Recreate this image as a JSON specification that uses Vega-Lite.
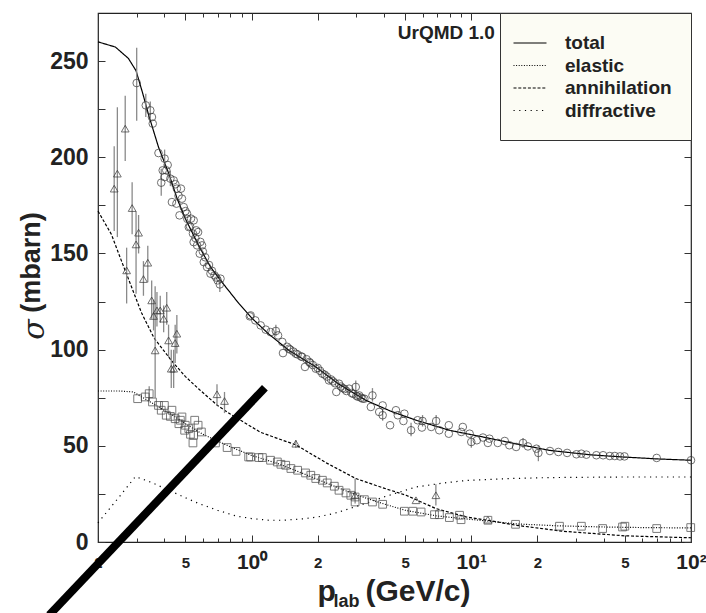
{
  "$schema": "https://vega.github.io/schema/vega-lite/v6.json",
  "width": 593,
  "height": 529,
  "autosize": {"type": "none"},
  "padding": {"left": 98, "top": 13, "right": 15, "bottom": 71},
  "background": "white",
  "config": {
    "font": "Liberation Sans",
    "view": {"stroke": "#222", "strokeWidth": 1.2},
    "axis": {"grid": false, "domain": false, "tickColor": "#333", "tickWidth": 1, "labelColor": "#222", "titleColor": "#222"}
  },
  "resolve": {"axis": {"x": "independent", "y": "independent"}},
  "datasets": {
    "curves": [
      {"p":0.2,"s":260,"series":"total"},{"p":0.24,"s":257.3,"series":"total"},{"p":0.275,"s":251.4,"series":"total"},{"p":0.298,"s":245,"series":"total"},{"p":0.32,"s":233,"series":"total"},{"p":0.34,"s":222,"series":"total"},{"p":0.377,"s":205.3,"series":"total"},{"p":0.42,"s":191.5,"series":"total"},{"p":0.46,"s":178,"series":"total"},{"p":0.5,"s":168,"series":"total"},{"p":0.575,"s":154,"series":"total"},{"p":0.65,"s":143,"series":"total"},{"p":0.734,"s":135,"series":"total"},{"p":0.875,"s":124,"series":"total"},{"p":1.0,"s":116.5,"series":"total"},{"p":1.2,"s":108,"series":"total"},{"p":1.48,"s":99.6,"series":"total"},{"p":1.96,"s":91,"series":"total"},{"p":2.5,"s":82,"series":"total"},{"p":3.32,"s":73.6,"series":"total"},{"p":4.3,"s":68,"series":"total"},{"p":5.61,"s":63.3,"series":"total"},{"p":8,"s":58,"series":"total"},{"p":11.3,"s":54.6,"series":"total"},{"p":16,"s":51,"series":"total"},{"p":22.8,"s":47.6,"series":"total"},{"p":35,"s":45.3,"series":"total"},{"p":49,"s":44.2,"series":"total"},{"p":70,"s":43.2,"series":"total"},{"p":100,"s":42.5,"series":"total"},
      {"p":0.2,"s":78.5,"series":"elastic"},{"p":0.25,"s":78.5,"series":"elastic"},{"p":0.29,"s":78,"series":"elastic"},{"p":0.31,"s":76,"series":"elastic"},{"p":0.35,"s":72.5,"series":"elastic"},{"p":0.4,"s":68.5,"series":"elastic"},{"p":0.45,"s":65,"series":"elastic"},{"p":0.5,"s":61.5,"series":"elastic"},{"p":0.6,"s":56,"series":"elastic"},{"p":0.7,"s":52.5,"series":"elastic"},{"p":0.8,"s":49.5,"series":"elastic"},{"p":1.0,"s":45,"series":"elastic"},{"p":1.3,"s":41,"series":"elastic"},{"p":1.6,"s":37,"series":"elastic"},{"p":2,"s":32.5,"series":"elastic"},{"p":2.5,"s":28,"series":"elastic"},{"p":3,"s":24.5,"series":"elastic"},{"p":4,"s":19.8,"series":"elastic"},{"p":5,"s":16.5,"series":"elastic"},{"p":7,"s":13.5,"series":"elastic"},{"p":9.5,"s":12,"series":"elastic"},{"p":16,"s":9.4,"series":"elastic"},{"p":25,"s":8.4,"series":"elastic"},{"p":40,"s":7.8,"series":"elastic"},{"p":60,"s":7.5,"series":"elastic"},{"p":100,"s":7.3,"series":"elastic"},
      {"p":0.2,"s":172,"series":"annihilation"},{"p":0.23,"s":160,"series":"annihilation"},{"p":0.256,"s":146,"series":"annihilation"},{"p":0.29,"s":130,"series":"annihilation"},{"p":0.316,"s":119,"series":"annihilation"},{"p":0.36,"s":106,"series":"annihilation"},{"p":0.434,"s":94,"series":"annihilation"},{"p":0.5,"s":86,"series":"annihilation"},{"p":0.575,"s":79.5,"series":"annihilation"},{"p":0.7,"s":71,"series":"annihilation"},{"p":0.8,"s":66.5,"series":"annihilation"},{"p":0.9,"s":63,"series":"annihilation"},{"p":1.1,"s":57,"series":"annihilation"},{"p":1.3,"s":54,"series":"annihilation"},{"p":1.59,"s":50.5,"series":"annihilation"},{"p":2.2,"s":41,"series":"annihilation"},{"p":2.98,"s":33,"series":"annihilation"},{"p":4,"s":28,"series":"annihilation"},{"p":5.05,"s":24.3,"series":"annihilation"},{"p":6.9,"s":17.4,"series":"annihilation"},{"p":9.5,"s":13,"series":"annihilation"},{"p":11.9,"s":11.3,"series":"annihilation"},{"p":16,"s":8.7,"series":"annihilation"},{"p":26,"s":5.6,"series":"annihilation"},{"p":50,"s":3.2,"series":"annihilation"},{"p":100,"s":2.2,"series":"annihilation"},
      {"p":0.2,"s":10,"series":"diffractive"},{"p":0.25,"s":23.5,"series":"diffractive"},{"p":0.296,"s":34,"series":"diffractive"},{"p":0.35,"s":31,"series":"diffractive"},{"p":0.4,"s":28,"series":"diffractive"},{"p":0.5,"s":23,"series":"diffractive"},{"p":0.575,"s":20,"series":"diffractive"},{"p":0.7,"s":16.5,"series":"diffractive"},{"p":0.85,"s":13.5,"series":"diffractive"},{"p":1.0,"s":12.2,"series":"diffractive"},{"p":1.2,"s":11.3,"series":"diffractive"},{"p":1.4,"s":11.3,"series":"diffractive"},{"p":1.7,"s":12,"series":"diffractive"},{"p":2,"s":13,"series":"diffractive"},{"p":2.4,"s":15,"series":"diffractive"},{"p":2.8,"s":17.4,"series":"diffractive"},{"p":3.4,"s":20.5,"series":"diffractive"},{"p":4,"s":23.4,"series":"diffractive"},{"p":5.6,"s":28.6,"series":"diffractive"},{"p":7.5,"s":30.7,"series":"diffractive"},{"p":9.5,"s":32,"series":"diffractive"},{"p":15,"s":33,"series":"diffractive"},{"p":23,"s":33.5,"series":"diffractive"},{"p":50,"s":33.8,"series":"diffractive"},{"p":100,"s":33.8,"series":"diffractive"}
    ],
    "pts": [
      {"kind":"total","p":0.300,"s":238.6,"lo":219,"hi":257},{"kind":"total","p":0.330,"s":227,"lo":221,"hi":233},{"kind":"total","p":0.346,"s":224.4,"lo":220,"hi":229},{"kind":"total","p":0.352,"s":220.9},{"kind":"total","p":0.355,"s":217.5},{"kind":"total","p":0.377,"s":202.2},{"kind":"total","p":0.388,"s":186.8,"lo":180,"hi":194},{"kind":"total","p":0.394,"s":193.2},{"kind":"total","p":0.402,"s":199.3,"lo":195,"hi":204},{"kind":"total","p":0.402,"s":189.7},{"kind":"total","p":0.409,"s":193.2},{"kind":"total","p":0.415,"s":196},{"kind":"total","p":0.427,"s":188.9,"lo":185,"hi":193},{"kind":"total","p":0.434,"s":176.7},{"kind":"total","p":0.442,"s":188},{"kind":"total","p":0.45,"s":186},{"kind":"total","p":0.455,"s":175.9},{"kind":"total","p":0.457,"s":183.7},{"kind":"total","p":0.465,"s":180},{"kind":"total","p":0.470,"s":169.8},{"kind":"total","p":0.477,"s":183.7},{"kind":"total","p":0.482,"s":178.5},{"kind":"total","p":0.491,"s":174.1},{"kind":"total","p":0.5,"s":172},{"kind":"total","p":0.508,"s":170.7},{"kind":"total","p":0.51,"s":168},{"kind":"total","p":0.518,"s":163.7},{"kind":"total","p":0.525,"s":164},{"kind":"total","p":0.530,"s":168.1},{"kind":"total","p":0.541,"s":160.3},{"kind":"total","p":0.545,"s":167.2},{"kind":"total","p":0.545,"s":155.9},{"kind":"total","p":0.555,"s":158},{"kind":"total","p":0.56,"s":162},{"kind":"total","p":0.565,"s":154.2},{"kind":"total","p":0.571,"s":161.1},{"kind":"total","p":0.581,"s":149.9},{"kind":"total","p":0.585,"s":156},{"kind":"total","p":0.595,"s":154.2},{"kind":"total","p":0.6,"s":151},{"kind":"total","p":0.606,"s":145.5},{"kind":"total","p":0.615,"s":148},{"kind":"total","p":0.627,"s":142.9},{"kind":"total","p":0.64,"s":144},{"kind":"total","p":0.650,"s":139.5},{"kind":"total","p":0.66,"s":141},{"kind":"total","p":0.678,"s":138.6},{"kind":"total","p":0.69,"s":137.5},{"kind":"total","p":0.701,"s":136},{"kind":"total","p":0.717,"s":133.9,"lo":130,"hi":138},{"kind":"total","p":0.722,"s":136.9},
      {"kind":"total","p":0.982,"s":117.3},{"kind":"total","p":0.99,"s":117.8},{"kind":"total","p":1.04,"s":115.2},{"kind":"total","p":1.10,"s":112.6},{"kind":"total","p":1.16,"s":110.4},{"kind":"total","p":1.22,"s":109.1},{"kind":"total","p":1.29,"s":109.7,"lo":107,"hi":113},{"kind":"total","p":1.32,"s":107.4},{"kind":"total","p":1.38,"s":104},{"kind":"total","p":1.39,"s":98.2},{"kind":"total","p":1.45,"s":101.5},{"kind":"total","p":1.48,"s":100.5},{"kind":"total","p":1.5,"s":100},{"kind":"total","p":1.55,"s":99},{"kind":"total","p":1.59,"s":97.9},{"kind":"total","p":1.62,"s":97.5},{"kind":"total","p":1.68,"s":96.5},{"kind":"total","p":1.70,"s":96.2},{"kind":"total","p":1.75,"s":91},{"kind":"total","p":1.78,"s":95},{"kind":"total","p":1.83,"s":93.6},{"kind":"total","p":1.85,"s":93},{"kind":"total","p":1.9,"s":92},{"kind":"total","p":1.96,"s":90.1},{"kind":"total","p":2.0,"s":90.5},{"kind":"total","p":2.05,"s":89},{"kind":"total","p":2.10,"s":87.5},{"kind":"total","p":2.15,"s":87},{"kind":"total","p":2.2,"s":86},{"kind":"total","p":2.25,"s":84},{"kind":"total","p":2.3,"s":84.5},{"kind":"total","p":2.35,"s":83.5},{"kind":"total","p":2.4,"s":82.5},{"kind":"total","p":2.43,"s":78},{"kind":"total","p":2.50,"s":82.3},{"kind":"total","p":2.55,"s":80.8},{"kind":"total","p":2.6,"s":80},{"kind":"total","p":2.65,"s":79.5},{"kind":"total","p":2.7,"s":78.5},{"kind":"total","p":2.78,"s":79.7},{"kind":"total","p":2.85,"s":77.5},{"kind":"total","p":2.9,"s":77},{"kind":"total","p":2.98,"s":80.6,"lo":77,"hi":84},{"kind":"total","p":3.0,"s":76},{"kind":"total","p":3.05,"s":75.5},{"kind":"total","p":3.09,"s":76.2},{"kind":"total","p":3.15,"s":75},{"kind":"total","p":3.2,"s":74.5},{"kind":"total","p":3.26,"s":74.5},{"kind":"total","p":3.49,"s":70.2},{"kind":"total","p":3.55,"s":76.2,"lo":73,"hi":80},{"kind":"total","p":3.81,"s":67.6},{"kind":"total","p":3.95,"s":71},{"kind":"total","p":3.95,"s":65.9,"lo":63,"hi":69},{"kind":"total","p":4.27,"s":60.7},{"kind":"total","p":4.54,"s":68.5},{"kind":"total","p":4.63,"s":65.9},{"kind":"total","p":4.91,"s":62.9},{"kind":"total","p":4.96,"s":66.7},{"kind":"total","p":5.32,"s":58.1,"lo":55,"hi":62},{"kind":"total","p":5.70,"s":63.3},{"kind":"total","p":5.96,"s":59.5},{"kind":"total","p":6.0,"s":62.9,"lo":60,"hi":66},{"kind":"total","p":6.57,"s":59.8},{"kind":"total","p":6.92,"s":62.9,"lo":60,"hi":66},{"kind":"total","p":7.15,"s":58.1},{"kind":"total","p":7.9,"s":60.7},{"kind":"total","p":7.9,"s":56.3},{"kind":"total","p":9.0,"s":57.2},{"kind":"total","p":9.15,"s":59.8},{"kind":"total","p":9.83,"s":56.3},{"kind":"total","p":10.0,"s":52,"lo":49,"hi":55},{"kind":"total","p":10.6,"s":52.9},{"kind":"total","p":11.3,"s":54.3},{"kind":"total","p":11.9,"s":51.5},{"kind":"total","p":12.1,"s":53.7},{"kind":"total","p":13.2,"s":51.5},{"kind":"total","p":14.2,"s":52.5},{"kind":"total","p":14.9,"s":50.3},{"kind":"total","p":16.0,"s":49.4},{"kind":"total","p":17.2,"s":51.5,"lo":49,"hi":54},{"kind":"total","p":18.1,"s":49.7},{"kind":"total","p":19.8,"s":48.5},{"kind":"total","p":20.2,"s":46.3,"lo":42,"hi":50},{"kind":"total","p":22.8,"s":47.3},{"kind":"total","p":24.9,"s":46.8},{"kind":"total","p":27.3,"s":46.3},{"kind":"total","p":30.1,"s":45.6},{"kind":"total","p":31.7,"s":45.9},{"kind":"total","p":33.4,"s":45.4},{"kind":"total","p":37.1,"s":45.1},{"kind":"total","p":39.8,"s":45.1},{"kind":"total","p":42.7,"s":44.7},{"kind":"total","p":45,"s":44.7},{"kind":"total","p":47.5,"s":44.5},{"kind":"total","p":49.8,"s":44.5},{"kind":"total","p":69.8,"s":43.7},{"kind":"total","p":100,"s":42.5},
      {"kind":"annihilation","p":0.237,"s":183.7,"lo":161.7,"hi":205.7},{"kind":"annihilation","p":0.245,"s":191.5,"lo":158.5,"hi":226},{"kind":"annihilation","p":0.266,"s":214.9,"lo":198,"hi":232},{"kind":"annihilation","p":0.270,"s":141.2,"lo":124,"hi":153},{"kind":"annihilation","p":0.286,"s":173.6,"lo":160,"hi":187},{"kind":"annihilation","p":0.298,"s":154.7,"lo":129,"hi":172},{"kind":"annihilation","p":0.306,"s":160.8,"lo":150,"hi":170},{"kind":"annihilation","p":0.322,"s":136.7,"lo":128,"hi":146},{"kind":"annihilation","p":0.337,"s":145.2,"lo":135,"hi":154},{"kind":"annihilation","p":0.351,"s":125.6,"lo":116,"hi":136},{"kind":"annihilation","p":0.358,"s":117.5,"lo":110,"hi":126},{"kind":"annihilation","p":0.364,"s":99.6,"lo":75,"hi":133},{"kind":"annihilation","p":0.371,"s":120.4,"lo":112,"hi":130},{"kind":"annihilation","p":0.384,"s":120.4,"lo":114,"hi":128},{"kind":"annihilation","p":0.398,"s":116.1,"lo":109,"hi":123},{"kind":"annihilation","p":0.411,"s":121.8,"lo":113,"hi":130},{"kind":"annihilation","p":0.419,"s":104.8,"lo":96,"hi":113},{"kind":"annihilation","p":0.431,"s":90.1,"lo":80,"hi":100},{"kind":"annihilation","p":0.442,"s":90.1,"lo":80,"hi":100},{"kind":"annihilation","p":0.449,"s":103.4,"lo":93,"hi":113},{"kind":"annihilation","p":0.457,"s":108.3,"lo":98,"hi":118},{"kind":"annihilation","p":0.696,"s":76.8,"lo":71,"hi":82},{"kind":"annihilation","p":0.753,"s":73.3,"lo":67,"hi":78},{"kind":"annihilation","p":1.59,"s":51.1,"lo":49,"hi":53},{"kind":"annihilation","p":2.96,"s":24.3,"lo":20,"hi":33},{"kind":"annihilation","p":5.6,"s":21.7},{"kind":"annihilation","p":6.9,"s":24.3,"lo":19,"hi":30},{"kind":"annihilation","p":11.9,"s":11.6},
      {"kind":"elastic","p":0.303,"s":74.5},{"kind":"elastic","p":0.328,"s":75.4},{"kind":"elastic","p":0.342,"s":77.1,"lo":73,"hi":81},{"kind":"elastic","p":0.354,"s":72.8},{"kind":"elastic","p":0.377,"s":71},{"kind":"elastic","p":0.388,"s":68.5},{"kind":"elastic","p":0.401,"s":71},{"kind":"elastic","p":0.409,"s":65.9},{"kind":"elastic","p":0.427,"s":65.3},{"kind":"elastic","p":0.434,"s":68.5},{"kind":"elastic","p":0.449,"s":64.1},{"kind":"elastic","p":0.467,"s":61.5},{"kind":"elastic","p":0.474,"s":63.3},{"kind":"elastic","p":0.482,"s":65},{"kind":"elastic","p":0.496,"s":58.1},{"kind":"elastic","p":0.499,"s":60.7},{"kind":"elastic","p":0.518,"s":58.9},{"kind":"elastic","p":0.527,"s":56},{"kind":"elastic","p":0.541,"s":51.5},{"kind":"elastic","p":0.545,"s":55.5},{"kind":"elastic","p":0.551,"s":63.3},{"kind":"elastic","p":0.571,"s":60.7},{"kind":"elastic","p":0.591,"s":57.2},{"kind":"elastic","p":0.685,"s":51.5},{"kind":"elastic","p":0.774,"s":49.1},{"kind":"elastic","p":0.85,"s":47.1},{"kind":"elastic","p":0.97,"s":44.2},{"kind":"elastic","p":0.99,"s":44.2},{"kind":"elastic","p":1.08,"s":43.9},{"kind":"elastic","p":1.12,"s":43.9},{"kind":"elastic","p":1.22,"s":42.5},{"kind":"elastic","p":1.31,"s":41.6},{"kind":"elastic","p":1.36,"s":40.4},{"kind":"elastic","p":1.43,"s":39.9},{"kind":"elastic","p":1.51,"s":38.2},{"kind":"elastic","p":1.62,"s":37.3},{"kind":"elastic","p":1.76,"s":35.9},{"kind":"elastic","p":1.86,"s":34.7},{"kind":"elastic","p":1.96,"s":33},{"kind":"elastic","p":2.10,"s":32.1},{"kind":"elastic","p":2.21,"s":30.7},{"kind":"elastic","p":2.38,"s":29},{"kind":"elastic","p":2.50,"s":26.9},{"kind":"elastic","p":2.69,"s":25.5},{"kind":"elastic","p":2.83,"s":24.3},{"kind":"elastic","p":2.96,"s":23.4},{"kind":"elastic","p":2.96,"s":20.8},{"kind":"elastic","p":3.26,"s":22},{"kind":"elastic","p":3.55,"s":20.8},{"kind":"elastic","p":3.95,"s":19.6},{"kind":"elastic","p":4.96,"s":16},{"kind":"elastic","p":5.42,"s":16},{"kind":"elastic","p":5.91,"s":15.6},{"kind":"elastic","p":6.8,"s":14.2},{"kind":"elastic","p":7.16,"s":14.2},{"kind":"elastic","p":7.95,"s":12.7},{"kind":"elastic","p":8.84,"s":13.9},{"kind":"elastic","p":8.98,"s":11.6},{"kind":"elastic","p":11.9,"s":11.3},{"kind":"elastic","p":15.9,"s":9.2},{"kind":"elastic","p":25.2,"s":8.2},{"kind":"elastic","p":31.7,"s":8.2},{"kind":"elastic","p":39.6,"s":7},{"kind":"elastic","p":48.8,"s":7.8},{"kind":"elastic","p":50,"s":8.2},{"kind":"elastic","p":69.8,"s":7},{"kind":"elastic","p":99.7,"s":7.5}
    ],
    "diag": [{"p":0.12,"s":-38},{"p":1.15,"s":80.2}],
    "note": [{"p":7.7,"s":264.4,"label":"UrQMD 1.0"}]
  },
  "layer": [
    {
      "data": {"name": "curves"},
      "mark": {"type": "line", "color": "black", "strokeWidth": 1.2},
      "encoding": {
        "x": {"field": "p", "type": "quantitative", "scale": {"type": "log", "domain": [0.2, 100], "nice": false},
          "axis": {"orient": "bottom", "values": [0.2, 0.5, 1, 2, 5, 10, 20, 50, 100], "ticks": false, "labelPadding": 20, "labelBaseline": "middle", "labelFontWeight": "bold",
            "labelExpr": "datum.value == 1 ? '10⁰' : datum.value == 10 ? '10¹' : datum.value == 100 ? '10²' : (datum.value == 0.2 || datum.value == 2 || datum.value == 20) ? '2' : '5'",
            "labelFontSize": {"condition": {"test": "datum.value == 1 || datum.value == 10 || datum.value == 100", "value": 21}, "value": 15},
            "labelFlush": false, "labelOverlap": false,
            "title": "p", "titleFontSize": 30, "titleFontWeight": "bold", "titleX": 219, "titleY": 58, "titleAlign": "left", "titleBaseline": "alphabetic"}},
        "y": {"field": "s", "type": "quantitative", "scale": {"domain": [0, 275], "nice": false, "zero": false},
          "axis": {"orient": "left", "values": [0, 50, 100, 150, 200, 250], "ticks": false, "labelPadding": 10, "labelFontSize": 23, "labelFontWeight": "bold",
            "title": "(mbarn)", "titleFontSize": 27, "titleFontWeight": "bold", "titleX": -67, "titleY": 249, "titleAngle": -90, "titleAlign": "center", "titleBaseline": "middle"}},
        "strokeDash": {"field": "series", "type": "nominal",
          "scale": {"domain": ["total", "elastic", "annihilation", "diffractive"], "range": [[1, 0], [1, 1.6], [3, 1.8], [1.2, 4.5]]},
          "legend": {"orient": "top-right", "offset": 0, "title": null, "padding": 19, "fillColor": "#fcfcf4", "strokeColor": "#333",
            "symbolType": "M-1.65,0H1.65", "symbolSize": 400, "symbolStrokeColor": "black", "symbolStrokeWidth": 1.2, "labelOffset": 24,
            "labelFontSize": 19, "labelFontWeight": "bold", "labelColor": "#222", "rowPadding": 1.5}}
      }
    },
    {
      "data": {"name": "pts"},
      "transform": [{"filter": "isValid(datum.lo)"}],
      "mark": {"type": "rule", "color": "#8a8a8a", "strokeWidth": 1.3},
      "encoding": {
        "x": {"field": "p", "type": "quantitative", "axis": {"orient": "bottom", "values": [0.2, 0.5, 1, 2, 5, 10, 20, 50, 100], "labels": false, "tickSize": -7,
          "title": "lab", "titleFontSize": 18, "titleFontWeight": "bold", "titleX": 235, "titleY": 64, "titleAlign": "left", "titleBaseline": "alphabetic"}},
        "y": {"field": "lo", "type": "quantitative", "axis": {"orient": "left", "values": [0, 25, 50, 75, 100, 125, 150, 175, 200, 225, 250], "labels": false, "tickSize": -7,
          "title": "σ", "titleFont": "DejaVu Serif", "titleFontStyle": "italic", "titleFontWeight": "normal", "titleFontSize": 30, "titleX": -64, "titleY": 316, "titleAngle": -90, "titleAlign": "center", "titleBaseline": "middle"}},
        "y2": {"field": "hi"}
      }
    },
    {
      "data": {"name": "pts"},
      "transform": [{"filter": "datum.kind == 'total'"}],
      "mark": {"type": "point", "shape": "circle", "filled": false, "stroke": "#333", "strokeWidth": 1, "size": 58},
      "encoding": {
        "x": {"field": "p", "type": "quantitative", "axis": {"orient": "bottom", "values": [0.3, 0.4, 0.6, 0.7, 0.8, 0.9, 3, 4, 6, 7, 8, 9, 30, 40, 60, 70, 80, 90], "labels": false, "tickSize": -4,
          "title": "(GeV/c)", "titleFontSize": 30, "titleFontWeight": "bold", "titleX": 267, "titleY": 58, "titleAlign": "left", "titleBaseline": "alphabetic"}},
        "y": {"field": "s", "type": "quantitative", "axis": {"orient": "right", "values": [0, 25, 50, 75, 100, 125, 150, 175, 200, 225, 250], "labels": false, "tickSize": -7, "title": null}}
      }
    },
    {
      "data": {"name": "pts"},
      "transform": [{"filter": "datum.kind == 'annihilation'"}],
      "mark": {"type": "point", "shape": "triangle-up", "filled": false, "stroke": "#333", "strokeWidth": 1, "size": 60},
      "encoding": {
        "x": {"field": "p", "type": "quantitative", "axis": {"orient": "top", "values": [0.2, 0.5, 1, 2, 5, 10, 20, 50, 100], "labels": false, "tickSize": -7, "title": null}},
        "y": {"field": "s", "type": "quantitative", "axis": null}
      }
    },
    {
      "data": {"name": "pts"},
      "transform": [{"filter": "datum.kind == 'elastic'"}],
      "mark": {"type": "point", "shape": "square", "filled": false, "stroke": "#444", "strokeWidth": 1, "size": 60},
      "encoding": {
        "x": {"field": "p", "type": "quantitative", "axis": {"orient": "top", "values": [0.3, 0.4, 0.6, 0.7, 0.8, 0.9, 3, 4, 6, 7, 8, 9, 30, 40, 60, 70, 80, 90], "labels": false, "tickSize": -4, "title": null}},
        "y": {"field": "s", "type": "quantitative", "axis": null}
      }
    },
    {
      "data": {"name": "diag"},
      "mark": {"type": "line", "color": "black", "strokeWidth": 8, "strokeCap": "butt", "clip": false},
      "encoding": {
        "x": {"field": "p", "type": "quantitative", "axis": null},
        "y": {"field": "s", "type": "quantitative", "axis": null}
      }
    },
    {
      "data": {"name": "note"},
      "mark": {"type": "text", "fontSize": 19, "fontWeight": "bold", "color": "#222", "align": "center", "baseline": "middle"},
      "encoding": {
        "x": {"field": "p", "type": "quantitative", "axis": null},
        "y": {"field": "s", "type": "quantitative", "axis": null},
        "text": {"field": "label"}
      }
    }
  ]
}
